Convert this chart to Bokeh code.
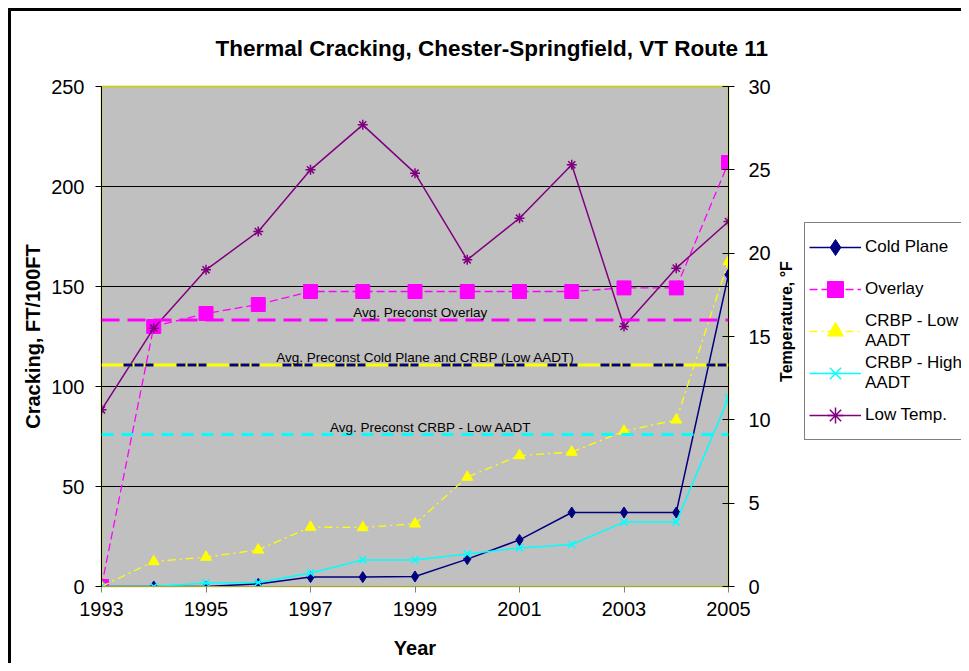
import math
from bokeh.plotting import figure
from bokeh.layouts import row
from bokeh.models import (LinearAxis, Range1d, FixedTicker, Span, Label, Legend, LegendItem)
from bokeh.embed import file_html
from bokeh.resources import INLINE

# ---------------- data ----------------
years = [1993, 1994, 1995, 1996, 1997, 1998, 1999, 2000, 2001, 2002, 2003, 2004, 2005]
year_ticks = [1993, 1995, 1997, 1999, 2001, 2003, 2005]
crack_ticks = [0, 50, 100, 150, 200, 250]
temp_ticks = [0, 5, 10, 15, 20, 25, 30]

cold_plane = [0, 0, 0, 1.3, 4.7, 4.7, 5, 13.7, 23.3, 37, 37, 37, 156]
overlay = [0, 130, 136.5, 141, 147.5, 147.5, 147.5, 147.5, 147.5, 147.5, 149.3, 149.3, 212]
crbp_low = [0, 12.5, 14.7, 18.3, 29.7, 29.5, 31.3, 54.7, 65.5, 67.2, 77.7, 83.3, 162.5]
crbp_high = [0, 0, 1.8, 2, 6.8, 13.3, 13.3, 16.3, 19.3, 21, 32.2, 32.2, 94.3]
low_temp = [10.6, 15.5, 19.0, 21.3, 25.0, 27.7, 24.8, 19.6, 22.1, 25.3, 15.6, 19.1, 21.9]

avg_overlay = 133.3
avg_cold_crbp = 110.8
avg_crbp_low = 76.0
avg_values = [avg_overlay, avg_cold_crbp, avg_crbp_low]
avg_texts = ["Avg. Preconst Overlay",
             "Avg. Preconst Cold Plane and CRBP (Low AADT)",
             "Avg. Preconst CRBP - Low AADT"]
avg_text_x = [1999.1, 1999.2, 1999.3]

series_labels = ["Cold Plane", "Overlay", "CRBP - Low\nAADT", "CRBP - High\nAADT", "Low Temp."]
right_axis_title = "Temperature, °F"

FONT = "Liberation Sans"
NAN = float("nan")

# outer chart frame (left and top edges visible in the window)
BORDER_BG = ("linear-gradient(black, black) 8px 8px / 3px 100% no-repeat, "
             "linear-gradient(black, black) 8px 8px / 100% 3px no-repeat, white")
BORDER_BG2 = "linear-gradient(black, black) 0px 8px / 100% 3px no-repeat, white"

W_MAIN = 775
W_SIDE = 961 - W_MAIN

p = figure(width=W_MAIN, height=663, x_range=Range1d(1993, 2005), y_range=Range1d(0, 250),
           output_backend="svg", toolbar_location=None,
           min_border_left=101, min_border_right=W_MAIN - 728, min_border_top=86,
           min_border_bottom=77)
p.extra_y_ranges = {"temp": Range1d(0, 30)}
p.styles = {"background": BORDER_BG}

p.background_fill_color = "#C0C0C0"
p.border_fill_color = None
p.outline_line_color = "#CCCC00"
p.outline_line_width = 1.5

# title
p.title.text = "Thermal Cracking, Chester-Springfield, VT Route 11"
p.title.text_font = FONT
p.title.text_font_size = "22.5px"
p.title.text_font_style = "bold"
p.title.text_color = "black"
p.title.align = "left"
p.title.offset = 114
p.title.standoff = 51

def style_axis(ax, label, label_size="20px"):
    ax.axis_label = label
    ax.axis_label_text_font = FONT
    ax.axis_label_text_font_size = label_size
    ax.axis_label_text_font_style = "bold"
    ax.axis_label_text_color = "black"
    ax.major_label_text_font = FONT
    ax.major_label_text_font_size = "20px"
    ax.major_label_text_color = "black"
    ax.major_tick_out = 6
    ax.major_tick_in = 0
    ax.minor_tick_out = 0
    ax.minor_tick_in = 0

# left axis
ya = p.yaxis[0]
ya.ticker = FixedTicker(ticks=crack_ticks)
style_axis(ya, "Cracking, FT/100FT")
ya.axis_label_standoff = 4
ya.major_label_standoff = 11
ya.axis_line_color = "black"
ya.major_tick_line_color = "black"

# bottom axis
xa = p.xaxis[0]
xa.ticker = FixedTicker(ticks=year_ticks)
style_axis(xa, "Year")
xa.axis_label_standoff = 18
xa.major_label_standoff = 9
xa.axis_line_color = "#A0A060"
xa.major_tick_line_color = "#808080"

# right axis (its title is drawn in the side panel so it can sit where the original has it)
ra = LinearAxis(y_range_name="temp", ticker=FixedTicker(ticks=temp_ticks))
style_axis(ra, None)
ra.major_label_standoff = 14
ra.major_tick_in = 6
ra.axis_line_color = "black"
ra.major_tick_line_color = "black"
p.add_layout(ra, "right")

# grid
p.xgrid.visible = False
p.ygrid.ticker = FixedTicker(ticks=crack_ticks)
p.ygrid.grid_line_color = "black"
p.ygrid.grid_line_width = 1

# average (preconstruction) lines
p.add_layout(Span(location=avg_overlay, dimension="width", line_color="#FF00FF",
                  line_width=3, line_dash="18 8"))
p.add_layout(Span(location=avg_cold_crbp, dimension="width", line_color="#FFFF00",
                  line_width=3))
p.add_layout(Span(location=avg_cold_crbp, dimension="width", line_color="#000080",
                  line_width=3, line_dash="9 2 9 2 8 23", line_dash_offset=31))
p.add_layout(Span(location=avg_crbp_low, dimension="width", line_color="#00FFFF",
                  line_width=3, line_dash="12 8"))

# series styles
styles = [
    dict(line=dict(line_color="#000080", line_width=1.5),
         mark=dict(marker="diamond", size=11, fill_color="#000080", line_color="#000080")),
    dict(line=dict(line_color="#FF00FF", line_width=1.3, line_dash="8 4"),
         mark=dict(marker="square", size=14, fill_color="#FF00FF", line_color="#FF00FF")),
    dict(line=dict(line_color="#FFFF00", line_width=1.3, line_dash="8 4 2 4"),
         mark=dict(marker="triangle", size=11, fill_color="#FFFF00", line_color="#FFFF00")),
    dict(line=dict(line_color="#00FFFF", line_width=1.5),
         mark=dict(marker="x", size=10, line_color="#00FFFF", line_width=1.5)),
    dict(line=dict(line_color="#800080", line_width=1.5),
         mark=dict(marker="asterisk", size=10, line_color="#800080", line_width=1.5)),
]
series_values = [cold_plane, overlay, crbp_low, crbp_high, low_temp]

for i, (vals, st) in enumerate(zip(series_values, styles)):
    kw = {"y_range_name": "temp"} if i == 4 else {}
    p.line(years, vals, **st["line"], **kw)
    p.scatter(years, vals, **st["mark"], **kw)

# annotation texts
for tx, ty, tt in zip(avg_text_x, avg_values, avg_texts):
    p.add_layout(Label(x=tx, y=ty, text=tt, text_align="center", text_baseline="alphabetic",
                       y_offset=7, text_font=FONT, text_font_size="13.5px", text_color="black"))

# side panel (a second, axis-less figure): right-axis title and legend
p2 = figure(width=W_SIDE, height=663, output_backend="svg", toolbar_location=None,
            title=None, x_axis_location=None, y_axis_location=None, min_border=0,
            x_range=Range1d(0, W_SIDE), y_range=Range1d(0, 1))
p2.grid.visible = False
p2.outline_line_color = None
p2.background_fill_color = None
p2.border_fill_color = None
p2.styles = {"background": BORDER_BG2}

p2.add_layout(Label(x=786 - W_MAIN, y=0.53, text=right_axis_title, angle=math.pi / 2,
                    text_align="center", text_baseline="middle", text_font=FONT,
                    text_font_size="16px", text_font_style="bold", text_color="black"))

items = []
for lab, st in zip(series_labels, styles):
    # legend swatches only: nothing is drawn in the panel itself
    rl = p2.line([NAN], [NAN], **st["line"])
    rm = p2.scatter([NAN], [NAN], **st["mark"])
    items.append(LegendItem(label=lab, renderers=[rl, rm]))

legend = Legend(items=items, location=(804 - W_MAIN, 146))
legend.label_text_font = FONT
legend.label_text_font_size = "17px"
legend.label_text_color = "black"
legend.label_text_line_height = 1.15
legend.glyph_width = 52
legend.glyph_height = 40
legend.label_height = 40
legend.label_width = 110
legend.label_standoff = 4
legend.spacing = 2
legend.padding = 4
legend.margin = 0
legend.border_line_color = "black"
legend.border_line_width = 1
legend.background_fill_color = "white"
legend.background_fill_alpha = 1
p2.add_layout(legend, "center")

layout = row(p, p2)
open("out.html", "w").write(file_html(layout, INLINE))
